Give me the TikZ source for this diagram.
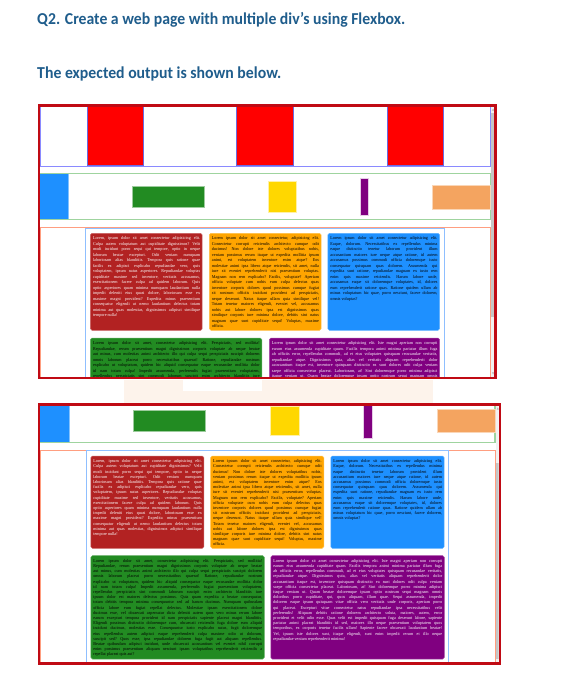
\documentclass[tikz,border=0pt]{standalone}
\usepackage{fontspec}
\usepackage{graphicx}
\setmainfont{Liberation Serif}
\newfontfamily\titlefont{Carlito}
\definecolor{titleblue}{HTML}{1F5D8C}
\definecolor{frame}{HTML}{C00A14}
\definecolor{topbox}{HTML}{8A8AFF}
\definecolor{sqborder}{HTML}{6A6AE0}
\definecolor{greenbox}{HTML}{9FD49F}
\definecolor{salmonbox}{HTML}{FF9E80}
\definecolor{lightblue}{HTML}{8FBFFF}
\definecolor{firebrick}{HTML}{B22222}
\definecolor{orangec}{HTML}{FFA500}
\definecolor{dodger}{HTML}{1E90FF}
\definecolor{forest}{HTML}{228B22}
\definecolor{purplec}{HTML}{800080}
\definecolor{goldc}{HTML}{FFD700}
\definecolor{sandy}{HTML}{F4A460}
\definecolor{wm}{HTML}{FDF3EB}
\definecolor{track}{HTML}{F1F1F1}
\definecolor{thumb}{HTML}{C6C6C6}

\newcommand\hs{0.945}
\newcommand\jl[1]{\hbox to\hsize{#1}}
\newcommand\lastl[1]{\hbox{#1}}

\newcommand\txtred{%
\jl{Lorem, ipsum dolor sit amet consectetur adipisicing elit.}%
\jl{Culpa autem voluptatum aut cupiditate dignissimos? Velit}%
\jl{modi incidunt porro sequi qui tempore, optio in neque}%
\jl{laborum beatae excepturi. Odit veniam numquam}%
\jl{laboriosam alias blanditiis. Tempora quis ratione quae}%
\jl{facilis ex adipisci explicabo repudiandae vero, quis}%
\jl{voluptatem, ipsum natus asperiores. Repudiandae voluptas}%
\jl{cupiditate maxime sed inventore, veritatis accusamus,}%
\jl{exercitationem facere culpa ad quidem laborum. Quis}%
\jl{optio asperiores quam minima numquam laudantium nulla}%
\jl{impedit deleniti eius quasi dolore, laboriosam esse ex}%
\jl{maxime magni provident? Expedita minus praesentium}%
\jl{consequatur eligendi ut nemo laudantium delectus totam}%
\jl{minima aut quas molestias, dignissimos adipisci similique}%
\lastl{tempore nulla!}}

\newcommand\txtorange{%
\jl{Lorem ipsum dolor sit amet consectetur, adipisicing elit.}%
\jl{Consectetur corrupti reiciendis architecto cumque odit}%
\jl{ducimus! Non dolore iste dolores voluptatibus nobis,}%
\jl{veniam possimus rerum itaque ut expedita mollitia ipsum}%
\jl{animi, est voluptatem inventore enim atque? Eos}%
\jl{molestiae animi ipsa libero atque reiciendis, sit amet, nulla}%
\jl{iure sit eveniet reprehenderit nisi praesentium voluptas.}%
\jl{Magnam non rem explicabo? Facilis, voluptate? Aperiam}%
\jl{officia voluptate cum nobis eum culpa delectus quas}%
\jl{inventore corporis dolores quod possimus cumque fugiat}%
\jl{sit nostrum officiis incidunt provident ad perspiciatis,}%
\jl{neque deserunt. Natus itaque ullam quia similique vel!}%
\jl{Totam tenetur maiores eligendi, eveniet vel, accusamus}%
\jl{nobis aut labore dolores ipsa est dignissimos quas}%
\jl{similique corporis iure minima dolore, debitis sint natus}%
\jl{magnam quae sunt cupiditate sequi! Voluptas, maxime}%
\lastl{officia.}}

\newcommand\txtblue{%
\jl{Lorem ipsum dolor sit amet consectetur adipisicing elit.}%
\jl{Eaque, dolorum. Necessitatibus ex repellendus minima}%
\jl{eaque distinctio tenetur laborum provident illum}%
\jl{accusantium maiores iure neque atque ratione, id autem}%
\jl{accusamus possimus commodi officia doloremque iusto}%
\jl{consequatur quisquam quas dolorem. Assumenda qui}%
\jl{expedita sunt ratione, repudiandae magnam ex iusto rem}%
\jl{enim quis maxime reiciendis. Harum labore unde,}%
\jl{accusamus eaque sit doloremque voluptates, id, dolores}%
\jl{eum reprehenderit ratione quas. Ratione quidem ullam ab}%
\jl{minus voluptatum hic quae, porro nesciunt, facere dolorem,}%
\lastl{omnis voluptas?}}

\newcommand\txtgreen{%
\jl{Lorem ipsum dolor sit amet, consectetur adipisicing elit. Perspiciatis, sed mollitia!}%
\jl{Repudiandae, rerum praesentium magni dignissimos corporis voluptate ab neque beatae}%
\jl{aut minus, cum molestias animi architecto illo qui culpa sequi perspiciatis suscipit dolorem}%
\jl{omnis laborum placeat porro necessitatibus quaerat! Ratione, repudiandae nostrum}%
\jl{explicabo ut voluptatum, quidem hic aliquid consequatur eaque recusandae mollitia dolor}%
\jl{id nam totam culpa! Impedit assumenda, perferendis fugiat praesentium voluptatem,}%
\jl{repellendus perspiciatis sint commodi laborum suscipit enim architecto blanditiis iure}%
\jl{ipsum dolor est maiores delectus possimus. Quia quam expedita a beatae consequatur,}%
\jl{totam debitis tempora minima consequuntur sed ad harum ducimus. Numquam quibusdam}%
\jl{officia labore eum fugiat repellat delectus. Molestiae ipsam exercitationem dolore}%
\jl{ducimus esse, vel obcaecati aspernatur dicta deleniti autem quos vero minus rerum labore}%
\jl{earum excepturi tempora provident id nam perspiciatis sapiente placeat magni blanditiis.}%
\jl{Eligendi possimus distinctio doloremque cum, obcaecati reiciendis fuga dolore eum aliquid}%
\jl{incidunt ducimus, molestias esse. Consequuntur iusto explicabo natus, fugit doloremque}%
\jl{eius repellendus autem adipisci eaque reprehenderit culpa maxime odio ut dolorum,}%
\jl{suscipit sed? Quos esse, ipsa repudiandae dolorem fuga fugit aut aliquam repellendus.}%
\jl{Beatae quibusdam adipisci incidunt, unde obcaecati accusantium vel eveniet nihil corrupti}%
\jl{enim possimus praesentium aliquam nesciunt ipsam voluptatibus reprehenderit reiciendis a}%
\lastl{repellat placeat quis aut?}}

\newcommand\txtpurple{%
\jl{Lorem ipsum dolor sit amet consectetur adipisicing elit. Iste magni aperiam non corrupti}%
\jl{earum eius assumenda cupiditate quam. Facilis tempora animi minima pariatur illum fuga}%
\jl{ab officiis error, repellendus commodi, ad et eius voluptates quisquam recusandae veritatis,}%
\jl{repudiandae atque. Dignissimos quia, alias vel veritatis aliquam reprehenderit dolor}%
\jl{accusantium itaque est, inventore quisquam distinctio ea sunt dolores odit culpa veniam}%
\jl{saepe officia consectetur placeat. Laboriosam, at! Sint doloremque porro minima adipisci}%
\jl{itaque veniam ut. Quam beatae doloremque ipsam optio nostrum sequi magnam omnis}%
\jl{doloribus porro cupiditate, qui, quos aliquam, illum quae. Sequi assumenda, impedit}%
\jl{dolorem eaque ipsum quisquam vitae officia vero veritatis unde corporis, aperiam porro}%
\jl{qui placeat. Excepturi vitae consectetur natus repudiandae ipsa necessitatibus velit}%
\jl{perferendis! Aliquam debitis ratione dolorem architecto soluta, maiores, autem, error}%
\jl{provident et velit odio esse. Quas velit est impedit quisquam fuga deserunt labore, sapiente}%
\jl{pariatur animi placeat blanditiis id sed, maiores illo neque praesentium voluptatem quos}%
\jl{temporibus, ex corporis tenetur facilis ullam! Sapiente facere obcaecati laudantium beatae!}%
\jl{Vel, ipsum iste dolores sunt, itaque eligendi, sunt enim impedit rerum et illo neque}%
\lastl{repudiandae veniam reprehenderit minima!}}

% #1 name, #2 x, #3 y, #4 width, #5 height, #6 fill, #7 text options, #8 content
\newcommand\card[8]{%
  \pgfmathsetmacro\tw{#4-5}%
  \pgfmathsetmacro\cw{#4*\hs}%
  \node[cardbg=#6, minimum width=\cw bp, minimum height=#5bp, anchor=north west] (#1) at (#2,#3) {};
  \node[anchor=north west, inner sep=0pt, #7] (#1-t) at ([xshift=2.4bp,yshift=-3.4bp]#1.north west)
    {\scalebox{\hs}[1]{\vbox{\hsize=\tw bp\relax #8}}};
}

\tikzset{
  cardbg/.style={rectangle, rounded corners=1.6bp, draw=#1!70!white, fill=#1, line width=0.5bp, inner sep=0pt, outer sep=0pt},
  txtA/.style={font={\fontsize{4.4}{5.5}\selectfont\frenchspacing\spaceskip=.25em plus 1em minus .1em\relax}},
  txtB/.style={font={\fontsize{4.4}{5.22}\selectfont\frenchspacing\spaceskip=.25em plus 1em minus .1em\relax}},
  outerframe/.style={draw=frame, line width=2.6bp},
  sq/.style={fill=red, draw=sqborder, line width=0.7bp},
  heading/.style={anchor=base west, inner sep=0pt, text=titleblue, font={\titlefont\bfseries\fontsize{16}{19}\selectfont}},
}

\begin{document}
\begin{tikzpicture}[x=0.945bp,y=-1bp]
\path[use as bounding box, fill=white] (0,0) rectangle (622.2,691);

% headings
\node[heading] (q2) at (39.2,25)
  {\scalebox{\hs}[1]{\resizebox{389.4bp}{!}{Q2. Create a web page with multiple div’s using Flexbox.}}};
\node[heading] (expected) at (39.2,78.3)
  {\scalebox{\hs}[1]{\resizebox{258.2bp}{!}{The expected output is shown below.}}};

% faint watermark between the screenshots
\fill[wm] (131,379.5) rectangle (194,403.5);
\fill[wm] (194,391) rectangle (277,403.5);
\fill[wm] (277,379.5) rectangle (458,403.5);

% ================= first screenshot =================
\fill[white] (41.2,105.4) rectangle (524.4,377.8);
\begin{scope}
\clip (42.5,106.7) rectangle (523.1,376.5);
% row of squares
\draw[topbox, line width=1bp] (42.4,106) rectangle (518.8,166.3);
\draw[sq] (92.2,106.5) rectangle (151.5,165.7);
\draw[sq] (250.2,106.5) rectangle (310.3,165.7);
\draw[sq] (409.4,106.5) rectangle (468.7,165.7);
% row of shapes
\draw[greenbox, line width=1.2bp] (42.4,173.7) rectangle (518.8,219.7);
\fill[dodger] (42.4,174.3) rectangle (72.6,219.1);
\draw[dodger!55!white, line width=0.7bp] (72.6,174.3) -- (72.6,219.1);
\draw[fill=forest, draw=forest!45!white, line width=0.7bp] (140.5,186) rectangle (215.8,207.7);
\draw[fill=goldc, draw=goldc!35!white, line width=0.7bp] (283.6,181.7) rectangle (313.8,212);
\draw[fill=purplec, draw=purplec!20!white, line width=0.7bp] (381,178.7) rectangle (390.2,215);
\draw[fill=sandy, draw=sandy!45!white, line width=0.7bp] (458,185) rectangle (518.8,209);
% card area
\draw[salmonbox, line width=1bp] (42.4,227.3) rectangle (518.8,420);
\draw[lightblue, line width=1bp] (90.4,228) rectangle (470.8,420);
\card{a1}{95.7}{233.3}{118.3}{97}{firebrick}{txtA, text=white}{\txtred}
\card{a2}{221.5}{233.3}{118.3}{97}{orangec}{txtA, text=black}{\txtorange}
\card{a3}{346.9}{233.3}{118.3}{97}{dodger}{txtA, text=black}{\txtblue}
\card{a4}{95.7}{338}{181.3}{110}{forest}{txtA, text=black}{\txtgreen}
\card{a5}{285}{338}{180.2}{110}{purplec}{txtA, text=white}{\txtpurple}
% scrollbar
\fill[track] (519.6,106.7) rectangle (523.6,376.5);
\fill[thumb] (520,113) rectangle (523.4,316.7);
\fill[gray!60] (520.6,110.6) -- (522.9,110.6) -- (521.75,108.4) -- cycle;
\fill[gray!60] (520.6,372.4) -- (522.9,372.4) -- (521.75,374.6) -- cycle;
\end{scope}
\draw[outerframe] (41.2,105.4) rectangle (524.4,377.8);

% ================= second screenshot =================
\fill[white] (41.2,404.4) rectangle (529,663.6);
\begin{scope}
\clip (42.5,405.7) rectangle (527.7,662.3);
\draw[greenbox, line width=1.2bp] (42.4,395) rectangle (523.8,442.7);
\fill[dodger] (42.4,395) rectangle (73,442.1);
\draw[dodger!55!white, line width=0.7bp] (73,395) -- (73,442.1);
\draw[fill=forest, draw=forest!45!white, line width=0.7bp] (141.2,410.3) rectangle (217.6,431);
\draw[fill=goldc, draw=goldc!35!white, line width=0.7bp] (285.8,406.7) rectangle (316.3,435);
\draw[fill=purplec, draw=purplec!20!white, line width=0.7bp] (384.5,400) rectangle (394.1,438);
\draw[fill=sandy, draw=sandy!45!white, line width=0.7bp] (462.3,409.3) rectangle (523.8,432.7);
\draw[salmonbox, line width=1bp] (42.4,450) rectangle (523.8,663);
\draw[lightblue, line width=1bp] (91.1,450.7) rectangle (474.8,663);
\card{b1}{96.1}{456}{119.7}{92.3}{firebrick}{txtB, text=white}{\txtred}
\card{b2}{222.9}{456}{119.7}{92.3}{orangec}{txtB, text=black}{\txtorange}
\card{b3}{350}{456}{120}{92.3}{dodger}{txtB, text=black}{\txtblue}
\card{b4}{96.1}{555.7}{183.6}{103.3}{forest}{txtB, text=black}{\txtgreen}
\card{b5}{286.5}{555.7}{183.6}{103.3}{purplec}{txtB, text=white}{\txtpurple}
% scrollbar
\fill[track] (524.6,405.7) rectangle (528.6,662.3);
\fill[thumb] (525,463.3) rectangle (528.4,659);
\fill[gray!60] (525.6,409.6) -- (527.9,409.6) -- (526.75,407.4) -- cycle;
\end{scope}
\draw[outerframe] (41.2,404.4) rectangle (529,663.6);
\end{tikzpicture}
\end{document}
